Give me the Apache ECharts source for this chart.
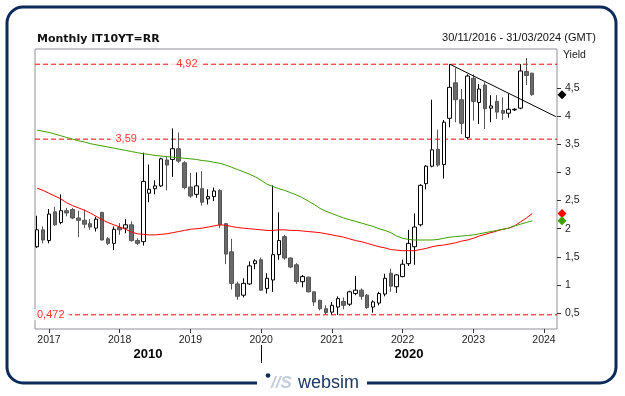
<!DOCTYPE html>
<html><head><meta charset="utf-8">
<script src="https://cdn.jsdelivr.net/npm/echarts@6/dist/echarts.min.js"></script>
<style>html,body{margin:0;padding:0;background:#fff}#c{width:625px;height:396px}</style>
</head><body><div id="c"></div>
<script>
// ---- categories: monthly, Nov 2016 .. Mar 2024 ----
const firstMonth = [2016, 11];
const monthCount = 89;
const months = [];
for (let k = 0; k < monthCount; k++) {
  const m = (firstMonth[1] - 1 + k);
  const y = firstMonth[0] + Math.floor(m / 12);
  months.push(y + '-' + String(m % 12 + 1).padStart(2, '0'));
}
// ---- candles (Nov 2016 .. Nov 2023) ----
const open = [1.68,1.98,1.79,2.30,2.11,2.32,2.34,2.19,2.15,2.09,
  2.01,2.29,1.82,1.74,2.02,2.01,2.07,1.79,1.77,2.63,
  2.71,2.76,3.22,3.23,3.42,3.17,2.74,2.61,2.71,2.53,
  2.57,2.68,2.09,1.59,1.02,0.82,1.02,1.38,1.45,0.94,
  1.09,1.54,1.86,1.48,1.36,1.06,1.14,0.88,0.73,0.58,
  0.52,0.61,0.71,0.66,0.85,0.91,0.82,0.61,0.68,0.84,
  1.21,0.97,1.15,1.38,1.68,2.07,2.80,3.11,3.41,3.14,
  3.96,4.59,4.29,3.62,4.67,4.24,4.55,4.14,4.26,4.10,
  4.05,4.11,4.14,4.79,4.76];
const close = [1.98,1.80,2.26,2.07,2.32,2.28,2.19,2.15,2.08,2.03,
  2.17,1.80,1.74,1.99,1.98,2.07,1.79,1.74,2.84,2.70,
  2.76,3.24,3.13,3.42,3.20,2.73,2.58,2.76,2.47,2.57,
  2.67,2.07,1.55,1.03,0.80,1.03,1.34,1.43,0.91,1.12,
  1.54,1.79,1.48,1.32,1.06,1.15,0.88,0.70,0.58,0.51,
  0.64,0.76,0.64,0.88,0.91,0.80,0.60,0.70,0.85,1.12,
  0.98,1.18,1.37,1.74,2.03,2.77,3.11,3.40,3.13,3.89,
  4.51,4.29,3.87,4.71,4.26,4.48,4.13,4.18,4.07,4.05,
  4.12,4.12,4.80,4.72,4.38];
const low = [1.66,1.74,1.74,2.05,2.08,2.22,2.17,1.85,2.01,1.98,
  1.95,1.79,1.71,1.62,1.89,1.92,1.77,1.71,1.70,2.47,
  2.61,2.74,2.68,2.92,3.17,2.70,2.55,2.55,2.41,2.43,
  2.49,2.01,1.37,0.92,0.74,0.78,1.00,1.28,0.90,0.85,
  0.88,1.45,1.45,1.30,1.02,0.96,0.87,0.63,0.55,0.48,
  0.48,0.472,0.57,0.63,0.82,0.74,0.58,0.51,0.64,0.80,
  0.88,0.86,1.14,1.34,1.36,2.04,2.70,3.09,3.10,2.89,
  3.80,3.89,3.68,3.59,3.92,3.86,3.77,3.89,3.95,3.93,
  3.97,4.09,4.12,4.55,4.36];
const high = [2.23,2.04,2.35,2.39,2.61,2.37,2.37,2.32,2.34,2.17,
  2.21,2.30,1.85,2.04,2.10,2.17,2.13,1.83,3.35,3.14,
  2.86,3.26,3.28,3.78,3.71,3.20,2.99,3.00,3.02,2.70,
  2.73,2.70,2.10,1.82,1.06,1.12,1.42,1.46,1.49,1.21,
  2.77,2.29,1.89,1.49,1.39,1.18,1.15,0.88,0.74,0.64,
  0.70,0.80,0.78,0.90,1.16,0.94,0.84,0.73,0.88,1.20,
  1.29,1.19,1.45,1.98,2.27,2.79,3.13,4.29,3.76,3.93,
  4.92,4.85,4.48,4.74,4.74,4.57,4.60,4.37,4.37,4.33,
  4.40,4.14,4.92,5.03,4.77];
// ---- moving averages ----
const maRed = [2.72,2.68,2.63,2.58,2.53,2.46,2.41,2.37,2.33,2.28,
  2.22,2.16,2.11,2.07,2.03,1.99,1.94,1.91,1.90,1.89,
  1.89,1.90,1.91,1.93,1.95,1.97,1.99,2.00,2.01,2.03,
  2.05,2.07,2.06,2.04,2.02,2.01,2.00,1.99,1.98,1.97,
  1.97,1.98,1.98,1.97,1.97,1.96,1.95,1.94,1.93,1.91,
  1.89,1.87,1.85,1.82,1.79,1.77,1.74,1.71,1.68,1.66,
  1.63,1.62,1.61,1.61,1.61,1.63,1.65,1.68,1.70,1.71,
  1.73,1.75,1.78,1.80,1.83,1.87,1.90,1.93,1.96,1.99,
  2.01,2.05,2.12,2.19,2.27];
const maGreen = [3.75,3.73,3.71,3.68,3.65,3.62,3.59,3.56,3.54,3.51,
  3.49,3.47,3.45,3.43,3.41,3.39,3.37,3.35,3.33,3.32,
  3.30,3.29,3.28,3.27,3.26,3.25,3.24,3.23,3.21,3.20,
  3.18,3.16,3.13,3.09,3.05,3.01,2.97,2.92,2.86,2.79,
  2.75,2.71,2.68,2.64,2.60,2.55,2.49,2.43,2.36,2.31,
  2.27,2.23,2.19,2.16,2.13,2.10,2.07,2.04,2.00,1.97,
  1.93,1.87,1.83,1.81,1.80,1.80,1.80,1.80,1.81,1.83,
  1.85,1.86,1.87,1.88,1.89,1.91,1.93,1.95,1.97,1.99,
  2.01,2.05,2.08,2.11,2.14];
// ---- levels, trend line, tick labels ----
const levels = [4.92, 3.59, 0.472];
const trendLine = [['2022-09', 4.92], ['2024-03', 3.99]];
const yTicks = [0.5, 1, 1.5, 2, 2.5, 3, 3.5, 4, 4.5];
const decades = ['2010', '2020'];
const decadeStart = '2020-01';

const idx = m => months.indexOf(m);
const xMin = -0.37, xMax = 88.2;
const janIdx = months.map((m, i) => m.endsWith('-01') ? i : -1).filter(i => i >= 0);
const dIdx = idx(decadeStart);
const comma = v => String(v).replace('.', ',');

const candles = open.map((o, i) => [i, o, close[i], low[i], high[i]]);
const red = maRed.map((v, i) => [i, v]);
const green = maGreen.map((v, i) => [i, v]);
const trend = trendLine.map(p => [idx(p[0]), p[1]]);
const labelPos = [25.4, 15.1, 2.3];

const FONT = 'Liberation Sans';
const levelSeries = levels.map(v => ({
  type: 'line', data: [[xMin, v], [xMax, v]], symbol: 'none', silent: true, z: 2,
  lineStyle: { color: '#ff0000', type: [5, 3], width: 1 }
}));

const chart = echarts.init(document.getElementById('c'));
chart.setOption({
  animation: false,
  backgroundColor: '#fff',
  grid: { left: 35, right: 68, top: 49, bottom: 67, show: true, borderColor: '#8e8e98', borderWidth: 1 },
  xAxis: [{
    type: 'value', min: xMin, max: xMax, position: 'bottom',
    axisLine: { show: false, onZero: false }, splitLine: { show: false },
    axisTick: { show: true, customValues: janIdx, length: 4, lineStyle: { color: '#333' } },
    axisLabel: { customValues: janIdx, formatter: v => months[v].slice(0, 4), margin: 6,
      fontFamily: FONT, fontSize: 10.5, color: '#222' }
  }, {
    type: 'value', min: xMin, max: xMax, position: 'bottom', offset: 16,
    axisLine: { show: false, onZero: false }, splitLine: { show: false },
    axisTick: { show: true, customValues: [dIdx], length: 18, lineStyle: { color: '#000' } },
    axisLabel: { customValues: [(xMin + dIdx) / 2, (dIdx + xMax) / 2],
      formatter: v => v < dIdx ? decades[0] : decades[1], margin: 3,
      fontFamily: FONT, fontSize: 13, fontWeight: 'bold', color: '#000' }
  }],
  yAxis: {
    type: 'value', position: 'right', min: 0.22, max: 5.19,
    axisLine: { show: false, onZero: false }, splitLine: { show: false },
    axisTick: { show: true, customValues: yTicks, length: 4, lineStyle: { color: '#333' } },
    axisLabel: { customValues: yTicks, formatter: comma, margin: 8,
      fontFamily: FONT, fontSize: 10.5, color: '#222' }
  },
  series: levelSeries.concat([{
    type: 'candlestick', data: candles, barWidth: 4, z: 3,
    itemStyle: { color: '#fff', color0: '#6a6a6a', borderColor: '#000', borderColor0: '#555', borderWidth: 1 }
  }, {
    type: 'line', data: red, symbol: 'none', lineStyle: { color: '#ff0000', width: 1 }, z: 4
  }, {
    type: 'line', data: green, symbol: 'none', lineStyle: { color: '#3f9e00', width: 1 }, z: 4
  }, {
    type: 'line', data: trend, symbol: 'none', lineStyle: { color: '#000', width: 1 }, z: 5
  }, {
    type: 'scatter', symbolSize: 0, z: 6,
    data: levels.map((v, i) => [labelPos[i], v]),
    label: { show: true, position: 'inside', formatter: p => comma(p.value[1]),
      color: '#ff0000', fontFamily: FONT, fontSize: 11, backgroundColor: '#fff', padding: [0, 5] }
  }])
});

const gx = chart.convertToPixel({ xAxisIndex: 0 }, xMax) + 5;
const py = v => chart.convertToPixel({ yAxisIndex: 0 }, v);
const diamond = (y, c) => ({ type: 'polygon', shape: { points: [[gx, y - 4.5], [gx + 4.5, y], [gx, y + 4.5], [gx - 4.5, y]] },
  style: { fill: c }, z: 100 });
const NAVY = '#0c2b5b';
chart.setOption({
  graphic: [
    { type: 'rect', shape: { x: 7, y: 7, width: 609, height: 376, r: 16 }, style: { fill: 'none', stroke: NAVY, lineWidth: 3 }, z: 90 },
    { type: 'rect', shape: { x: 257, y: 376, width: 110, height: 14 }, style: { fill: '#fff' }, z: 91 },
    { type: 'circle', shape: { cx: 268, cy: 375.5, r: 2.3 }, style: { fill: NAVY }, z: 92 },
    { type: 'text', style: { text: '//S', x: 271, y: 383, verticalAlign: 'middle', font: 'italic bold 17px Liberation Sans', fill: '#c3cddb' }, z: 92 },
    { type: 'text', style: { text: 'websim', x: 298, y: 383, verticalAlign: 'middle', font: '18px Liberation Sans', fill: '#1c3768' }, z: 92 },
    { type: 'text', style: { text: 'Monthly IT10YT=RR', x: 37, y: 39, verticalAlign: 'middle', font: 'bold 11px DejaVu Sans', fill: '#111' }, z: 92 },
    { type: 'text', style: { text: '30/11/2016 - 31/03/2024 (GMT)', x: 596, y: 37.5, align: 'right', verticalAlign: 'middle', font: '11px Liberation Sans', fill: '#111' }, z: 92 },
    { type: 'text', style: { text: 'Yield', x: 563, y: 55, verticalAlign: 'middle', font: '10.5px Liberation Sans', fill: '#222' }, z: 92 },
    diamond(py(close[close.length - 1]), '#000'),
    diamond(py(maRed[maRed.length - 1]), '#ff0000'),
    diamond(py(maGreen[maGreen.length - 1]), '#3f9e00')
  ]
});
</script></body></html>
